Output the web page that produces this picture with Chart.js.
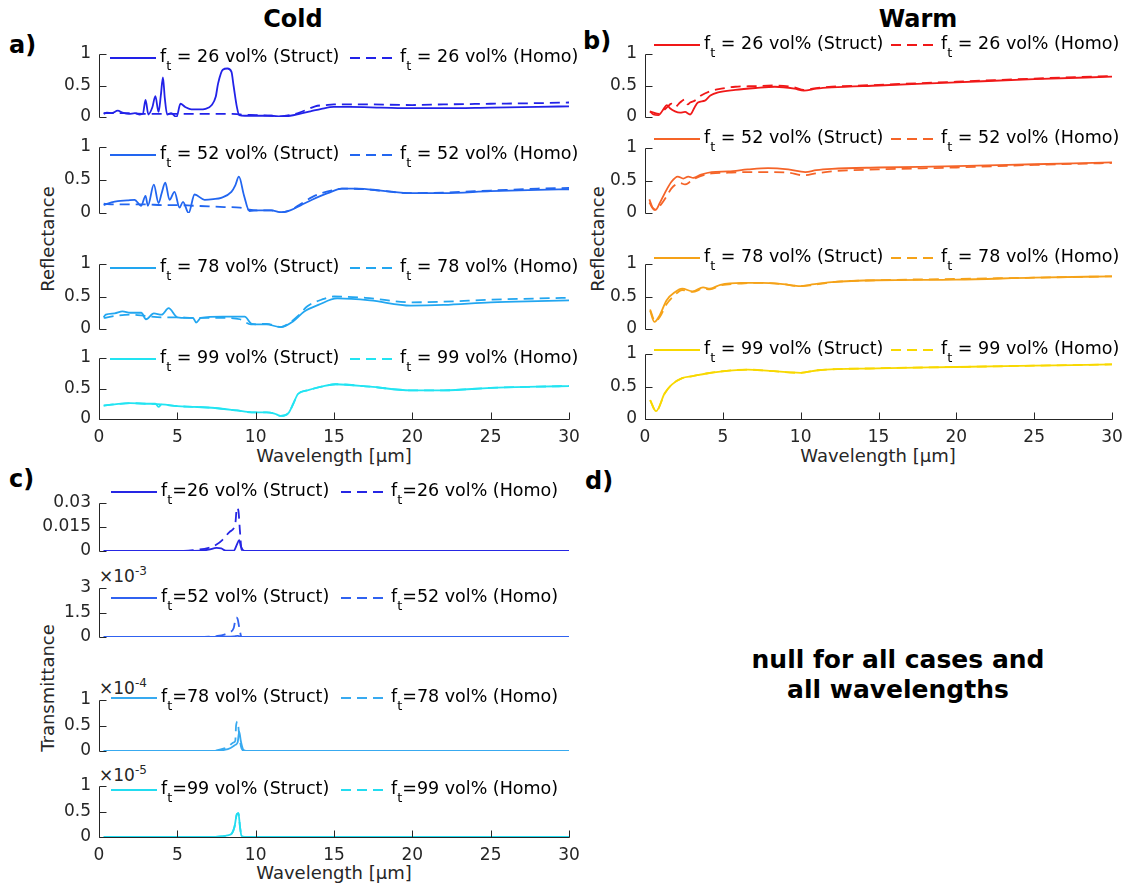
<!DOCTYPE html>
<html><head><meta charset="utf-8"><title>Reflectance and transmittance spectra</title>
<script src="https://cdn.jsdelivr.net/npm/chart.js@4.4.1/dist/chart.umd.min.js"></script>
<style>
html,body{margin:0;padding:0;background:#fff}
#fig{position:relative;width:1130px;height:884px;overflow:hidden;background:#fff;font-family:"DejaVu Sans",sans-serif}
#fig canvas{position:absolute}
.txt{position:absolute;white-space:nowrap;transform:translate(-50%,-50%);line-height:1}
.lbl{font-size:18px;color:#262626}
.rot{transform:translate(-50%,-50%) rotate(-90deg)}
.ttl{font-size:24px;font-weight:bold;color:#000}
.pan{position:absolute;font-size:24px;font-weight:bold;color:#000;line-height:1;transform:translateY(-50%);white-space:nowrap}
.exp{position:absolute;font-size:17px;color:#262626;line-height:1;white-space:nowrap;transform:translateY(-50%)}
.exp sup{font-size:12px}
.note{position:absolute;font-size:25px;font-weight:bold;color:#000;text-align:center;line-height:30px;transform:translate(-50%,-50%);white-space:nowrap}
</style></head><body><div id="fig">
<div class="txt ttl" style="left:293px;top:19px">Cold</div>
<div class="txt ttl" style="left:918px;top:19px">Warm</div>
<div class="pan" style="left:9px;top:45px">a)</div>
<div class="pan" style="left:583px;top:41px">b)</div>
<div class="pan" style="left:9px;top:479px">c)</div>
<div class="pan" style="left:585px;top:481px">d)</div>
<div class="txt lbl rot" style="left:48px;top:239px">Reflectance</div>
<div class="txt lbl rot" style="left:598px;top:239px">Reflectance</div>
<div class="txt lbl rot" style="left:48px;top:688px">Transmittance</div>
<div class="txt lbl" style="left:334px;top:456px">Wavelength [μm]</div>
<div class="txt lbl" style="left:878px;top:456px">Wavelength [μm]</div>
<div class="txt lbl" style="left:334px;top:873px">Wavelength [μm]</div>
<div class="exp" style="left:99px;top:575px">×10<sup>-3</sup></div>
<div class="exp" style="left:99px;top:687px">×10<sup>-4</sup></div>
<div class="exp" style="left:99px;top:774px">×10<sup>-5</sup></div>
<div class="note" style="left:898px;top:675px">null for all cases and<br>all wavelengths</div>
</div>
<script>
// ---------------- DATA ----------------
const xTickValues = [0, 5, 10, 15, 20, 25, 30];
const rTickValues = [0, 0.5, 1];
const rTickLabels = ['0', '0.5', '1'];
const t26TickValues = [0, 0.015, 0.03];
const t26TickLabels = ['0', '0.015', '0.03'];
const t52TickValues = [0, 0.0015, 0.003];
const t52TickLabels = ['0', '1.5', '3'];
const t78TickValues = [0, 0.00005, 0.0001];
const t78TickLabels = ['0', '0.5', '1'];
const t99TickValues = [0, 0.000005, 0.00001];
const t99TickLabels = ['0', '0.5', '1'];
const fractions = ['26', '52', '78', '99'];

// Cold reflectance
const coldWl26S = [0.3,0.5,0.8,1.2,1.5,1.9,2.3,2.6,2.8,2.97,3.15,3.4,3.6,3.8,3.95,4.08,4.2,4.35,4.6,4.95,5.2,5.5,5.9,6.4,6.8,7.2,7.45,7.6,7.9,8.2,8.45,8.6,8.8,8.95,9.3,10,11,11.6,12.2,12.8,13.5,14.2,15,16,18,20,22,25,28,30];
const coldR26S  = [0.05,0.07,0.06,0.10,0.07,0.05,0.06,0.04,0.05,0.27,0.04,0.15,0.33,0.08,0.35,0.63,0.30,0.04,0.06,0.00,0.21,0.16,0.12,0.12,0.13,0.19,0.32,0.53,0.75,0.77,0.72,0.48,0.16,0.03,0.02,0.02,0.02,0.01,0.02,0.05,0.09,0.13,0.16,0.16,0.15,0.14,0.14,0.15,0.16,0.17];
const coldWl26H = [0.3,1,2,3,4,5,6,7,8,8.5,9,10,11,11.6,12.2,12.8,13.3,13.8,14.5,15,17,20,22,25,28,30];
const coldR26H  = [0.06,0.06,0.06,0.05,0.05,0.05,0.05,0.05,0.05,0.05,0.04,0.03,0.02,0.01,0.03,0.07,0.12,0.17,0.19,0.20,0.20,0.19,0.20,0.21,0.22,0.23];
const coldWl52S = [0.3,0.8,1.2,1.8,2.27,2.69,2.97,3.12,3.5,3.8,4.0,4.23,4.5,4.82,5.14,5.36,5.72,6.1,6.74,7.3,7.8,8.45,8.7,8.93,9.25,9.6,10.2,11,11.64,12.2,12.9,13.6,14.6,15.5,16.5,18,20,22,25,28,30];
const coldR52S  = [0.12,0.16,0.18,0.19,0.20,0.11,0.26,0.11,0.43,0.15,0.30,0.46,0.20,0.32,0.08,0.17,0.00,0.28,0.20,0.21,0.23,0.32,0.42,0.55,0.27,0.03,0.04,0.04,0.01,0.04,0.12,0.20,0.30,0.37,0.37,0.34,0.30,0.30,0.33,0.35,0.36];
const coldWl52H = [0.3,1,2,3,4,5,6,7,8,9,9.6,10.2,11,11.6,12.2,12.9,13.6,14.2,15,15.5,17,20,22,25,28,30];
const coldR52H  = [0.14,0.13,0.13,0.13,0.12,0.12,0.11,0.10,0.09,0.08,0.05,0.04,0.04,0.01,0.04,0.14,0.24,0.30,0.35,0.37,0.36,0.30,0.31,0.34,0.37,0.38];
const coldWl78S = [0.3,0.43,1.0,1.5,2.0,2.7,3.0,3.5,4.0,4.44,5.0,5.6,6.0,6.2,6.5,7.9,9.3,9.75,10.7,11.6,12.4,13.1,14.0,15.2,17.3,19.9,22,25,28,30];
const coldR78S  = [0.18,0.22,0.24,0.27,0.25,0.25,0.15,0.24,0.22,0.32,0.18,0.17,0.17,0.10,0.17,0.19,0.19,0.08,0.07,0.03,0.12,0.27,0.37,0.47,0.44,0.36,0.37,0.41,0.43,0.44];
const coldWl78H = [0.3,1.0,2.0,3.0,4.0,5.0,6.0,7.0,8.0,9.0,9.7,10.7,11.6,12.2,12.7,13.3,14.2,15.0,17,20,22,25,28,30];
const coldR78H  = [0.17,0.20,0.22,0.20,0.18,0.18,0.17,0.17,0.17,0.15,0.07,0.08,0.03,0.10,0.20,0.35,0.45,0.50,0.48,0.41,0.42,0.45,0.47,0.48];
const coldWl99S = [0.3,1.0,2.0,3.0,3.6,3.8,4.0,5.0,6.0,7.4,8.8,9.75,10.7,11.2,11.6,12.1,12.4,12.7,13.3,14.2,15.1,17.3,19.9,22,25,28,30];
const coldR99S  = [0.22,0.24,0.26,0.25,0.25,0.20,0.24,0.21,0.20,0.18,0.14,0.11,0.11,0.09,0.05,0.10,0.25,0.41,0.47,0.53,0.57,0.53,0.47,0.47,0.51,0.53,0.54];
const coldWl99H = [0.3,1.0,2.0,3.0,4.0,5.0,6.0,7.4,8.8,9.75,10.7,11.2,11.6,12.1,12.4,12.7,13.3,14.2,15.1,17.3,19.9,22,25,28,30];
const coldR99H  = [0.22,0.24,0.26,0.25,0.24,0.21,0.20,0.18,0.14,0.11,0.11,0.09,0.05,0.10,0.25,0.41,0.47,0.53,0.57,0.53,0.47,0.47,0.51,0.53,0.54];

// Warm reflectance
const warmWl26S = [0.32,0.54,0.86,1.18,1.4,1.6,1.93,2.25,2.57,2.9,3.2,3.4,3.85,4.2,4.7,5.8,7.1,8.35,9.6,10.2,11,12,15,20,25,30];
const warmR26S  = [0.09,0.04,0.03,0.12,0.19,0.14,0.09,0.07,0.08,0.04,0.16,0.23,0.26,0.34,0.39,0.43,0.46,0.48,0.45,0.42,0.45,0.47,0.50,0.55,0.60,0.64];
const warmWl26H = [0.32,0.86,1.4,1.7,1.93,2.25,2.57,2.75,2.9,3.2,3.6,4.2,4.9,5.8,7.1,8.35,9.6,10.2,11,12,15,20,25,30];
const warmR26H  = [0.09,0.05,0.15,0.21,0.16,0.23,0.28,0.20,0.23,0.26,0.34,0.41,0.45,0.48,0.49,0.50,0.47,0.43,0.46,0.48,0.51,0.56,0.61,0.65];
const warmWl52S = [0.28,0.47,0.68,0.96,1.28,1.7,2.1,2.46,2.78,3.1,3.6,4.28,5.35,6.6,7.9,9.2,10.3,11,12,15,20,25,30];
const warmR52S  = [0.21,0.09,0.05,0.16,0.31,0.48,0.56,0.53,0.56,0.54,0.59,0.63,0.64,0.67,0.69,0.67,0.63,0.66,0.68,0.70,0.72,0.75,0.78];
const warmWl52H = [0.28,0.6,0.96,1.4,1.7,2.25,2.57,2.9,3.2,4.28,5.35,6.6,7.9,9.2,10.2,11,12,15,20,25,30];
const warmR52H  = [0.16,0.05,0.11,0.26,0.38,0.46,0.44,0.48,0.53,0.61,0.62,0.63,0.63,0.62,0.58,0.61,0.64,0.67,0.70,0.74,0.77];
const warmWl78S = [0.33,0.6,0.94,1.38,1.94,2.39,3.06,3.73,4.17,4.84,6.2,7.5,8.86,10.0,10.6,12,14.9,20,25,30];
const warmR78S  = [0.28,0.11,0.21,0.44,0.57,0.62,0.58,0.64,0.62,0.68,0.71,0.71,0.69,0.66,0.68,0.72,0.75,0.76,0.79,0.81];
const warmWl78H = [0.33,0.65,0.94,1.38,1.94,2.39,3.06,3.73,4.17,4.84,6.2,7.5,8.86,10.0,10.6,12,14.9,20,25,30];
const warmR78H  = [0.30,0.12,0.18,0.38,0.53,0.60,0.57,0.62,0.61,0.67,0.70,0.71,0.69,0.66,0.67,0.72,0.75,0.77,0.79,0.81];
const warmWl99S = [0.33,0.71,1.27,1.72,2.39,3.06,3.95,4.84,6.6,8,10,11.1,14.9,20,25,30];
const warmR99S  = [0.29,0.12,0.40,0.53,0.63,0.66,0.70,0.73,0.76,0.74,0.71,0.75,0.78,0.80,0.82,0.84];
const warmWl99H = [0.33,0.71,1.27,1.72,2.39,3.06,3.95,4.84,6.6,8,10,11.1,14.9,20,25,30];
const warmR99H  = [0.29,0.12,0.39,0.53,0.63,0.66,0.70,0.73,0.76,0.74,0.71,0.75,0.78,0.80,0.82,0.84];

// Cold transmittance
const transWl26S = [0.3,5,6,7,7.5,7.8,8.1,8.6,8.8,8.95,9.05,9.3,10,20,30];
const transT26S  = [0,0,0,0.0008,0.002,0.0016,0.0002,0.0002,0.004,0.0068,0.003,0,0,0,0];
const transWl26H = [0.3,5,6,7,7.5,7.87,8.34,8.7,8.8,8.9,9.0,9.1,9.3,10,20,30];
const transT26H  = [0,0,0.0005,0.002,0.004,0.0068,0.012,0.017,0.027,0.025,0.012,0.001,0,0,0,0];
const transWl52S = [0.3,7,8,8.6,8.85,9.0,9.2,10,30];
const transT52S  = [0,0,0.00002,0.00004,0.00007,0.00003,0,0,0];
const transWl52H = [0.3,6,7,7.5,8,8.3,8.6,8.75,8.85,8.95,9.1,10,20,30];
const transT52H  = [0,0,0.00002,0.00006,0.00015,0.00028,0.00055,0.0012,0.0011,0.0006,0,0,0,0];
const transWl78S = [0.3,7.5,8,8.4,8.7,8.85,8.95,9.05,9.2,9.4,30];
const transT78S  = [0,0,0.000002,0.000006,0.000012,0.000017,0.000038,0.00002,0.000003,0,0];
const transWl78H = [0.3,7,7.5,8,8.3,8.6,8.7,8.75,8.85,8.95,9.1,9.3,30];
const transT78H  = [0,0,0.000001,0.000005,0.00001,0.000017,0.00002,0.00005,0.000058,0.00003,0.000005,0,0];
const transWl99S = [0.3,7,7.8,8.2,8.5,8.65,8.8,8.9,9.0,9.1,9.3,30];
const transT99S  = [0,0,0.0000001,0.0000003,0.0000008,0.000002,0.0000045,0.0000047,0.000002,0.0000002,0,0];
const transWl99H = [0.3,7,7.8,8.2,8.5,8.65,8.8,8.9,9.0,9.1,9.3,30];
const transT99H  = [0,0,0.0000001,0.0000003,0.0000008,0.000002,0.0000045,0.0000047,0.000002,0.0000002,0,0];

// ---------------- STYLE / LAYOUT ----------------
const coldColors  = ['#2222e8', '#2266f0', '#22a6f0', '#22e4f2'];
const warmColors  = ['#f01818', '#f56428', '#f5a218', '#f8d800'];
const transColors = ['#2626e4', '#3062f0', '#38aaf0', '#22dcf0'];
const FONT = '"DejaVu Sans", sans-serif';
const AXIS_COLOR = '#262626';
const TICK_LEN = 7;
const LINE_W = 1.8;
const DASH = [10, 6];

Chart.defaults.font.family = FONT;
Chart.defaults.font.size = 17;
Chart.defaults.color = AXIS_COLOR;

function pts(xs, ys) { return xs.map((x, i) => ({ x: x, y: ys[i] })); }

const axisPlugin = {
  id: 'matlabAxes',
  afterDraw(chart, args, opts) {
    const { ctx, chartArea: ca, scales } = chart;
    const x = scales.x, y = scales.y;
    ctx.save();
    ctx.strokeStyle = AXIS_COLOR;
    ctx.lineWidth = 1;
    ctx.setLineDash([]);
    ctx.beginPath();
    const lx = Math.round(ca.left) + 0.5;
    ctx.moveTo(lx, Math.round(y.getPixelForValue(y.max)) + 0.5);
    ctx.lineTo(lx, Math.round(y.getPixelForValue(y.min)) + 0.5);
    y.ticks.forEach(t => {
      const py = Math.round(y.getPixelForValue(t.value)) + 0.5;
      ctx.moveTo(lx, py); ctx.lineTo(lx + TICK_LEN, py);
    });
    if (opts.showX) {
      const by = Math.round(y.getPixelForValue(y.min)) + 0.5;
      ctx.moveTo(lx, by); ctx.lineTo(Math.round(x.getPixelForValue(x.max)) + 0.5, by);
      x.ticks.forEach(t => {
        const px = Math.round(x.getPixelForValue(t.value)) + 0.5;
        ctx.moveTo(px, by); ctx.lineTo(px, by - TICK_LEN);
      });
    }
    ctx.stroke();
    ctx.restore();
  }
};

const legendPlugin = {
  id: 'subLegend',
  afterDraw(chart, args, opts) {
    const ctx = chart.ctx;
    ctx.save();
    chart.data.datasets.forEach((ds, i) => {
      const x0 = opts.starts[i] - opts.originX;
      const y0 = opts.y - opts.originY;
      ctx.strokeStyle = ds.borderColor;
      ctx.lineWidth = LINE_W;
      ctx.setLineDash(ds.borderDash || []);
      ctx.beginPath();
      ctx.moveTo(x0, y0); ctx.lineTo(x0 + 46, y0);
      ctx.stroke();
      ctx.setLineDash([]);
      const parts = ds.label.split('_');
      const main = parts[0], sub = parts[1].charAt(0), rest = parts[1].slice(1);
      let tx = x0 + 50;
      ctx.fillStyle = '#000';
      ctx.textBaseline = 'middle';
      ctx.textAlign = 'left';
      ctx.font = '17.5px ' + FONT;
      ctx.fillText(main, tx, y0 - 1);
      tx += ctx.measureText(main).width;
      ctx.font = '13px ' + FONT;
      ctx.fillText(sub, tx, y0 + 9);
      tx += ctx.measureText(sub).width;
      ctx.font = '17.5px ' + FONT;
      ctx.fillText(rest, tx, y0 - 1);
    });
    ctx.restore();
  }
};

const fig = document.getElementById('fig');

function makeChart(s) {
  const cv = document.createElement('canvas');
  const left = s.L - 70, top = s.T - 25;
  const w = (s.R - s.L) + 95;
  const h = (s.B - s.T) + 25 + (s.showX ? 40 : 10);
  cv.width = w; cv.height = h;
  cv.style.left = left + 'px'; cv.style.top = top + 'px';
  cv.style.width = w + 'px'; cv.style.height = h + 'px';
  fig.appendChild(cv);
  const xScale = {
    type: 'linear', min: 0, max: 30, display: true,
    grid: { display: false, drawTicks: false }, border: { display: false },
    afterBuildTicks: sc => { sc.ticks = xTickValues.map(v => ({ value: v })); },
    afterFit: sc => { sc.height = s.showX ? 30 : 0; sc.paddingTop = 0; sc.paddingBottom = 0; },
    ticks: { display: s.showX, padding: 8, color: AXIS_COLOR, maxRotation: 0, autoSkip: false, callback: v => String(v) }
  };
  new Chart(cv, {
    type: 'line',
    data: {
      datasets: s.series.map(se => ({
        label: se.label, data: pts(se.xs, se.ys), borderColor: se.color,
        borderWidth: LINE_W, borderDash: se.dash ? DASH : [], pointRadius: 0,
        fill: false, cubicInterpolationMode: 'monotone'
      }))
    },
    options: {
      responsive: false, animation: false, events: [], devicePixelRatio: 1,
      layout: { padding: { left: 0, top: 25, right: 25, bottom: 10 } },
      plugins: {
        legend: { display: false }, tooltip: { enabled: false },
        matlabAxes: { showX: s.showX },
        subLegend: { starts: s.legendStarts, y: s.legendY, originX: left, originY: top }
      },
      scales: {
        x: xScale,
        y: {
          min: 0, max: s.yTicks[s.yTicks.length - 1],
          grid: { display: false, drawTicks: false }, border: { display: false },
          afterBuildTicks: sc => { sc.ticks = s.yTicks.map(v => ({ value: v })); },
          afterFit: sc => { sc.width = 70; sc.paddingTop = 0; sc.paddingBottom = 0; },
          ticks: { padding: 8, color: AXIS_COLOR, autoSkip: false, callback: (v, i) => s.yLabels[i] }
        }
      }
    },
    plugins: [axisPlugin, legendPlugin]
  });
}

// panel geometry (page px)
const coldTops = [54, 147, 264, 358], coldBottoms = [117, 213, 329, 419];
const warmTops = [54, 148, 264, 354], warmBottoms = [117, 213, 329, 419];
const transTops = [503, 588, 700, 786], transBottoms = [551, 637, 751, 837];
const coldLegendY = [58, 155, 268, 359];
const warmLegendY = [45, 139, 258, 350];
const transLegendY = [492, 598, 698, 790];

const coldSeries = [
  [coldWl26S, coldR26S, coldWl26H, coldR26H],
  [coldWl52S, coldR52S, coldWl52H, coldR52H],
  [coldWl78S, coldR78S, coldWl78H, coldR78H],
  [coldWl99S, coldR99S, coldWl99H, coldR99H]
];
const warmSeries = [
  [warmWl26S, warmR26S, warmWl26H, warmR26H],
  [warmWl52S, warmR52S, warmWl52H, warmR52H],
  [warmWl78S, warmR78S, warmWl78H, warmR78H],
  [warmWl99S, warmR99S, warmWl99H, warmR99H]
];
const transSeries = [
  [transWl26S, transT26S, transWl26H, transT26H],
  [transWl52S, transT52S, transWl52H, transT52H],
  [transWl78S, transT78S, transWl78H, transT78H],
  [transWl99S, transT99S, transWl99H, transT99H]
];
const transTicks = [[t26TickValues, t26TickLabels], [t52TickValues, t52TickLabels], [t78TickValues, t78TickLabels], [t99TickValues, t99TickLabels]];

for (let i = 0; i < 4; i++) {
  const f = fractions[i];
  makeChart({
    L: 99, R: 569, T: coldTops[i], B: coldBottoms[i], showX: i === 3,
    yTicks: rTickValues, yLabels: rTickLabels, legendStarts: [110, 350], legendY: coldLegendY[i],
    series: [
      { label: 'f_t = ' + f + ' vol% (Struct)', xs: coldSeries[i][0], ys: coldSeries[i][1], color: coldColors[i], dash: false },
      { label: 'f_t = ' + f + ' vol% (Homo)', xs: coldSeries[i][2], ys: coldSeries[i][3], color: coldColors[i], dash: true }
    ]
  });
  makeChart({
    L: 645, R: 1112, T: warmTops[i], B: warmBottoms[i], showX: i === 3,
    yTicks: rTickValues, yLabels: rTickLabels, legendStarts: [654, 891], legendY: warmLegendY[i],
    series: [
      { label: 'f_t = ' + f + ' vol% (Struct)', xs: warmSeries[i][0], ys: warmSeries[i][1], color: warmColors[i], dash: false },
      { label: 'f_t = ' + f + ' vol% (Homo)', xs: warmSeries[i][2], ys: warmSeries[i][3], color: warmColors[i], dash: true }
    ]
  });
  makeChart({
    L: 99, R: 569, T: transTops[i], B: transBottoms[i], showX: i === 3,
    yTicks: transTicks[i][0], yLabels: transTicks[i][1], legendStarts: [111, 341], legendY: transLegendY[i],
    series: [
      { label: 'f_t=' + f + ' vol% (Struct)', xs: transSeries[i][0], ys: transSeries[i][1], color: transColors[i], dash: false },
      { label: 'f_t=' + f + ' vol% (Homo)', xs: transSeries[i][2], ys: transSeries[i][3], color: transColors[i], dash: true }
    ]
  });
}
</script>
</body></html>
